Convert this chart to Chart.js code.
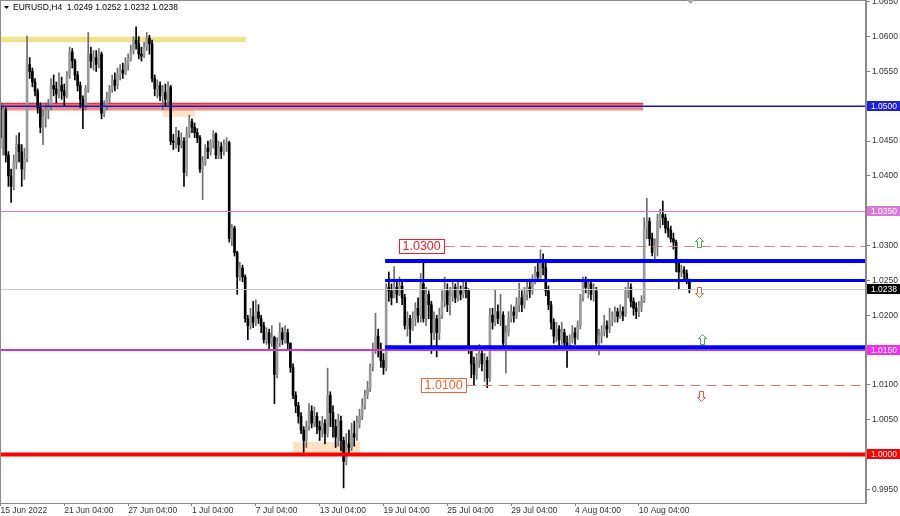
<!DOCTYPE html>
<html>
<head>
<meta charset="utf-8">
<title>EURUSD,H4</title>
<script src="https://cdn.jsdelivr.net/npm/chart.js@4.4.1/dist/chart.umd.min.js"></script>
<style>
    html, body { margin: 0; padding: 0; background: #fff; }
    #wrap { width: 900px; height: 516px; }
</style>
</head>
<body>
<div id="wrap"><canvas id="chart" width="900" height="516"></canvas></div>
<script>
// EURUSD H4, 15 Jun 2022 - 15 Aug 2022
const symbolTitle = 'EURUSD,H4';
const lastQuote = [1.0249, 1.0252, 1.0232, 1.0238]; // O H L C of the last bar
const firstOpen = 1.0500;

const closes = [
    1.0455, 1.0495, 1.0430, 1.0400, 1.0385, 1.0420, 1.0445, 1.0435, 1.0410, 1.0425,
    1.0560, 1.0550, 1.0535, 1.0522, 1.0498, 1.0470, 1.0485, 1.0495, 1.0500, 1.0530,
    1.0525, 1.0518, 1.0530, 1.0522, 1.0515, 1.0545, 1.0578, 1.0565, 1.0545, 1.0530,
    1.0510, 1.0500, 1.0525, 1.0575, 1.0565, 1.0570, 1.0560, 1.0575, 1.0490, 1.0500,
    1.0512, 1.0525, 1.0538, 1.0530, 1.0545, 1.0552, 1.0548, 1.0560, 1.0568, 1.0580,
    1.0595, 1.0590, 1.0575, 1.0572, 1.0585, 1.0598, 1.0590, 1.0540, 1.0525, 1.0530,
    1.0515, 1.0520, 1.0510, 1.0528, 1.0450, 1.0448, 1.0455, 1.0445, 1.0450, 1.0405,
    1.0460, 1.0478, 1.0470, 1.0462, 1.0455, 1.0410, 1.0420, 1.0440, 1.0435, 1.0448,
    1.0460, 1.0430, 1.0442, 1.0435, 1.0445, 1.0448, 1.0310, 1.0325, 1.0290, 1.0255,
    1.0268, 1.0255, 1.0195, 1.0185, 1.0198, 1.0190, 1.0205, 1.0195, 1.0185, 1.0165,
    1.0175, 1.0160, 1.0168, 1.0115, 1.0160, 1.0175, 1.0165, 1.0175, 1.0160, 1.0125,
    1.0085, 1.0070, 1.0055, 1.0035, 1.0020, 1.0040, 1.0062, 1.0045, 1.0055, 1.0040,
    1.0035, 1.0045, 1.0030, 1.0085, 1.0060, 1.0040, 1.0025, 1.0048, 1.0020, 0.9990,
    1.0015, 1.0010, 1.0030, 1.0025, 1.0045, 1.0055, 1.0070, 1.0085, 1.0095, 1.0125,
    1.0150, 1.0170, 1.0150, 1.0135, 1.0125, 1.0240, 1.0235, 1.0225, 1.0240, 1.0230,
    1.0242, 1.0225, 1.0185, 1.0195, 1.0180, 1.0195, 1.0210, 1.0200, 1.0245, 1.0195,
    1.0230, 1.0215, 1.0175, 1.0195, 1.0175, 1.0200, 1.0220, 1.0235, 1.0215, 1.0228,
    1.0240, 1.0225, 1.0235, 1.0230, 1.0240, 1.0235, 1.0150, 1.0130, 1.0115, 1.0135,
    1.0145, 1.0130, 1.0135, 1.0110, 1.0200, 1.0190, 1.0205, 1.0195, 1.0200, 1.0160,
    1.0175, 1.0195, 1.0205, 1.0200, 1.0215, 1.0225, 1.0215, 1.0230, 1.0240, 1.0235,
    1.0250, 1.0262, 1.0255, 1.0275, 1.0268, 1.0235, 1.0215, 1.0190, 1.0170, 1.0180,
    1.0165, 1.0175, 1.0160, 1.0155, 1.0165, 1.0175, 1.0168, 1.0185, 1.0225, 1.0248,
    1.0240, 1.0245, 1.0230, 1.0235, 1.0160, 1.0170, 1.0175, 1.0185, 1.0180, 1.0192,
    1.0195, 1.0205, 1.0198, 1.0205, 1.0200, 1.0235, 1.0240, 1.0220, 1.0210, 1.0205,
    1.0212, 1.0220, 1.0325, 1.0335, 1.0310, 1.0290, 1.0300, 1.0335, 1.0345, 1.0340,
    1.0325, 1.0322, 1.0310, 1.0305, 1.0275, 1.0262, 1.0265, 1.0260, 1.0249, 1.0238
];

const highs = [
    1.0505, 1.0502, 1.0498, 1.0435, 1.0410, 1.0430, 1.0458, 1.0462, 1.0445, 1.0440,
    1.0601, 1.0570, 1.0555, 1.0540, 1.0525, 1.0505, 1.0495, 1.0505, 1.0510, 1.0540,
    1.0545, 1.0535, 1.0548, 1.0542, 1.0532, 1.0550, 1.0585, 1.0583, 1.0568, 1.0550,
    1.0535, 1.0515, 1.0530, 1.0606, 1.0585, 1.0580, 1.0580, 1.0583, 1.0578, 1.0508,
    1.0520, 1.0530, 1.0545, 1.0548, 1.0555, 1.0560, 1.0562, 1.0570, 1.0575, 1.0588,
    1.0600, 1.0614, 1.0600, 1.0585, 1.0592, 1.0606, 1.0602, 1.0595, 1.0545, 1.0538,
    1.0535, 1.0530, 1.0532, 1.0535, 1.0530, 1.0460, 1.0470, 1.0465, 1.0462, 1.0455,
    1.0470, 1.0487, 1.0482, 1.0476, 1.0468, 1.0458, 1.0428, 1.0445, 1.0450, 1.0452,
    1.0465, 1.0462, 1.0450, 1.0448, 1.0452, 1.0455, 1.0450, 1.0330, 1.0328, 1.0292,
    1.0276, 1.0272, 1.0258, 1.0200, 1.0210, 1.0220, 1.0222, 1.0215, 1.0200, 1.0190,
    1.0182, 1.0180, 1.0185, 1.0170, 1.0168, 1.0189, 1.0182, 1.0185, 1.0180, 1.0160,
    1.0130, 1.0090, 1.0075, 1.0060, 1.0040, 1.0048, 1.0073, 1.0070, 1.0068, 1.0060,
    1.0048, 1.0055, 1.0050, 1.0124, 1.0090, 1.0070, 1.0050, 1.0058, 1.0055, 1.0025,
    1.0030, 1.0035, 1.0045, 1.0048, 1.0055, 1.0065, 1.0080, 1.0092, 1.0105, 1.0130,
    1.0160, 1.0203, 1.0180, 1.0160, 1.0145, 1.0245, 1.0262, 1.0245, 1.0270, 1.0248,
    1.0255, 1.0248, 1.0230, 1.0205, 1.0200, 1.0205, 1.0218, 1.0225, 1.0260, 1.0277,
    1.0240, 1.0235, 1.0220, 1.0205, 1.0200, 1.0210, 1.0235, 1.0255, 1.0245, 1.0240,
    1.0250, 1.0245, 1.0248, 1.0242, 1.0250, 1.0248, 1.0238, 1.0155, 1.0140, 1.0145,
    1.0158, 1.0150, 1.0145, 1.0140, 1.0210, 1.0210, 1.0236, 1.0215, 1.0230, 1.0205,
    1.0185, 1.0205, 1.0215, 1.0212, 1.0225, 1.0246, 1.0235, 1.0240, 1.0250, 1.0252,
    1.0258, 1.0270, 1.0278, 1.0294, 1.0288, 1.0275, 1.0242, 1.0220, 1.0195, 1.0190,
    1.0185, 1.0190, 1.0180, 1.0170, 1.0172, 1.0185, 1.0182, 1.0192, 1.0230, 1.0255,
    1.0255, 1.0252, 1.0248, 1.0245, 1.0240, 1.0180, 1.0185, 1.0200, 1.0192, 1.0210,
    1.0205, 1.0212, 1.0210, 1.0215, 1.0212, 1.0240, 1.0250, 1.0245, 1.0225, 1.0218,
    1.0220, 1.0228, 1.0340, 1.0368, 1.0340, 1.0318, 1.0310, 1.0345, 1.0352, 1.0364,
    1.0345, 1.0335, 1.0328, 1.0318, 1.0308, 1.0280, 1.0272, 1.0270, 1.0265, 1.0252
];

const lows = [
    1.0440, 1.0430, 1.0420, 1.0385, 1.0362, 1.0380, 1.0410, 1.0420, 1.0385, 1.0395,
    1.0420, 1.0540, 1.0528, 1.0515, 1.0490, 1.0462, 1.0445, 1.0470, 1.0482, 1.0495,
    1.0515, 1.0505, 1.0512, 1.0510, 1.0500, 1.0512, 1.0540, 1.0555, 1.0538, 1.0522,
    1.0498, 1.0468, 1.0495, 1.0520, 1.0555, 1.0552, 1.0550, 1.0555, 1.0482, 1.0485,
    1.0495, 1.0505, 1.0520, 1.0522, 1.0525, 1.0538, 1.0540, 1.0545, 1.0552, 1.0565,
    1.0575, 1.0582, 1.0568, 1.0565, 1.0570, 1.0580, 1.0575, 1.0535, 1.0515, 1.0512,
    1.0508, 1.0495, 1.0500, 1.0502, 1.0445, 1.0438, 1.0440, 1.0435, 1.0440, 1.0385,
    1.0400, 1.0455, 1.0462, 1.0455, 1.0448, 1.0405, 1.0366, 1.0415, 1.0425, 1.0430,
    1.0440, 1.0425, 1.0425, 1.0425, 1.0430, 1.0435, 1.0305, 1.0300, 1.0285, 1.0230,
    1.0250, 1.0248, 1.0190, 1.0165, 1.0180, 1.0182, 1.0185, 1.0188, 1.0175, 1.0160,
    1.0158, 1.0150, 1.0155, 1.0073, 1.0110, 1.0155, 1.0158, 1.0160, 1.0152, 1.0118,
    1.0080, 1.0060, 1.0045, 1.0030, 1.0003, 1.0010, 1.0035, 1.0038, 1.0040, 1.0030,
    1.0020, 1.0025, 1.0015, 1.0025, 1.0040, 1.0025, 1.0010, 1.0012, 1.0005, 0.9952,
    0.9985, 1.0000, 1.0005, 1.0012, 1.0020, 1.0038, 1.0050, 1.0065, 1.0080, 1.0090,
    1.0120, 1.0145, 1.0140, 1.0125, 1.0115, 1.0120, 1.0220, 1.0215, 1.0225, 1.0218,
    1.0228, 1.0215, 1.0180, 1.0170, 1.0160, 1.0178, 1.0185, 1.0190, 1.0190, 1.0190,
    1.0185, 1.0195, 1.0145, 1.0165, 1.0140, 1.0165, 1.0195, 1.0212, 1.0205, 1.0200,
    1.0220, 1.0218, 1.0220, 1.0222, 1.0225, 1.0225, 1.0145, 1.0110, 1.0100, 1.0108,
    1.0125, 1.0120, 1.0105, 1.0096, 1.0105, 1.0180, 1.0185, 1.0188, 1.0185, 1.0150,
    1.0117, 1.0170, 1.0190, 1.0190, 1.0195, 1.0205, 1.0205, 1.0210, 1.0222, 1.0225,
    1.0230, 1.0245, 1.0248, 1.0252, 1.0258, 1.0228, 1.0208, 1.0180, 1.0160, 1.0162,
    1.0155, 1.0158, 1.0150, 1.0125, 1.0150, 1.0160, 1.0158, 1.0165, 1.0180, 1.0220,
    1.0232, 1.0225, 1.0222, 1.0220, 1.0150, 1.0143, 1.0160, 1.0170, 1.0168, 1.0175,
    1.0185, 1.0190, 1.0190, 1.0195, 1.0192, 1.0198, 1.0225, 1.0212, 1.0200, 1.0195,
    1.0198, 1.0205, 1.0218, 1.0310, 1.0300, 1.0285, 1.0280, 1.0285, 1.0325, 1.0330,
    1.0318, 1.0312, 1.0305, 1.0295, 1.0262, 1.0238, 1.0255, 1.0252, 1.0245, 1.0232
];

// time axis: one label every 24 bars
const xTickIndex = [0, 24, 48, 72, 96, 120, 144, 168, 192, 216, 240];
const xTickLabels = ['15 Jun 2022', '21 Jun 04:00', '27 Jun 04:00', '1 Jul 04:00', '7 Jul 04:00',
    '13 Jul 04:00', '19 Jul 04:00', '25 Jul 04:00', '29 Jul 04:00', '4 Aug 04:00', '10 Aug 04:00'];
const yTicks = [0.9950, 1.0000, 1.0050, 1.0100, 1.0150, 1.0200, 1.0250, 1.0300,
    1.0350, 1.0400, 1.0450, 1.0500, 1.0550, 1.0600, 1.0650];

// drawn objects (prices and bar indexes)
const zonePrices = [[1.0592, 1.0600], [1.0494, 1.0505], [1.0485, 1.0505], [1.0000, 1.0018]];
const zoneBars = [[-1, 92.2], [-1, 241.6], [61, 73], [110, 135.2]];
const levelPrices = [1.0500, 1.0350, 1.0238, 1.0150, 1.0000];      // full width, with price tag
const channelPrices = [1.0278, 1.0250, 1.0154];                    // blue lines from 19 Jul
const channelStart = 144.6;
const targetPrices = [1.0300, 1.0100];                             // dashed with text box
const targetBars = [149.8, 158.1];
const arrowsUp = [[262.6, 1.0305], [263.7, 1.0166]];
const arrowsDown = [[262.6, 1.0233], [263.3, 1.0084]];

const FONT = '"Liberation Sans", Arial, sans-serif';

const bars = closes.map((c, i) => {
    const o = i === 0 ? firstOpen : closes[i - 1];
    return { i, o, c, h: Math.max(highs[i], o, c), l: Math.min(lows[i], o, c) };
});
const isUp = b => b.c >= b.o;

// 레벨, 박스, 화살표 그리기
const drawingsPlugin = {
    id: 'drawings',
    beforeDatasetsDraw(chart) {
        const { ctx, chartArea: a, scales: { x, y } } = chart;
        const zoneColors = ['#efe48e', '#f28a80', '#fde2c6', '#fde2c6'];
        ctx.save();
        ctx.beginPath();
        ctx.rect(a.left, a.top, a.width, a.height);
        ctx.clip();
        // peach boxes first, then bands
        [2, 3, 0, 1].forEach(k => {
            const x0 = x.getPixelForValue(zoneBars[k][0]);
            const x1 = x.getPixelForValue(zoneBars[k][1]);
            const y0 = y.getPixelForValue(zonePrices[k][1]);
            const y1 = y.getPixelForValue(zonePrices[k][0]);
            ctx.fillStyle = zoneColors[k];
            ctx.fillRect(x0, y0, x1 - x0, y1 - y0);
        });
        // red top edge of the 1.0500 band
        const xb0 = x.getPixelForValue(zoneBars[1][0]);
        const xb1 = x.getPixelForValue(zoneBars[1][1]);
        ctx.fillStyle = '#ee3030';
        ctx.fillRect(xb0, y.getPixelForValue(zonePrices[1][1]), xb1 - xb0, 1.5);
        ctx.restore();
    },
    afterDatasetsDraw(chart) {
        const { ctx, chartArea: a, scales: { x, y } } = chart;
        ctx.save();
        ctx.beginPath();
        ctx.rect(a.left, a.top, a.width, a.height);
        ctx.clip();

        const hline = (price, x0, x1, width, color, dash) => {
            let py = y.getPixelForValue(price);
            // 1px lines snapped to the pixel grid
            if (width === 1) py = Math.round(py) + 0.5;
            ctx.beginPath();
            ctx.setLineDash(dash || []);
            ctx.strokeStyle = color;
            ctx.lineWidth = width;
            ctx.moveTo(x0, py);
            ctx.lineTo(x1, py);
            ctx.stroke();
        };

        const levelStyle = [[1.5, '#1414d2'], [1, '#d878d8'], [1, '#c8c8c8'], [2, '#c63cc6'], [4, '#ff0000']];
        levelPrices.forEach((p, k) => hline(p, a.left, a.right, levelStyle[k][0], levelStyle[k][1]));

        const chStart = x.getPixelForValue(channelStart);
        const chWidth = [4, 3, 4];
        channelPrices.forEach((p, k) => hline(p, chStart, a.right, chWidth[k], '#0000ff'));

        // 목표 레벨 (dashed + label box)
        const targetColor = ['#e8202a', '#f2622e'];
        ctx.font = '12.5px ' + FONT;
        ctx.textBaseline = 'middle';
        targetPrices.forEach((p, k) => {
            const txt = p.toFixed(4);
            const bx = Math.round(x.getPixelForValue(targetBars[k])) + 0.5;
            const py = Math.round(y.getPixelForValue(p)) + 0.5;
            const w = Math.ceil(ctx.measureText(txt).width) + 6;
            hline(p, bx + w, a.right, 1, '#d67c7c', [10, 6]);
            ctx.setLineDash([]);
            ctx.fillStyle = '#ffffff';
            ctx.fillRect(bx, py - 7, w, 14);
            ctx.strokeStyle = targetColor[k];
            ctx.lineWidth = 1;
            ctx.strokeRect(bx, py - 7, w, 14);
            ctx.fillStyle = targetColor[k];
            ctx.textAlign = 'left';
            ctx.fillText(txt, bx + 3, py + 0.5);
        });

        // arrows
        const arrow = (pt, dir, color) => {
            const cx = Math.round(x.getPixelForValue(pt[0])) + 0.5;
            const cy = Math.round(y.getPixelForValue(pt[1])) + 0.5;
            const s = dir;
            ctx.beginPath();
            ctx.moveTo(cx, cy - 5 * s);
            ctx.lineTo(cx + 4, cy - 1 * s);
            ctx.lineTo(cx + 2, cy - 1 * s);
            ctx.lineTo(cx + 2, cy + 5 * s);
            ctx.lineTo(cx - 2, cy + 5 * s);
            ctx.lineTo(cx - 2, cy - 1 * s);
            ctx.lineTo(cx - 4, cy - 1 * s);
            ctx.closePath();
            ctx.fillStyle = '#ffffff';
            ctx.fill();
            ctx.strokeStyle = color;
            ctx.lineWidth = 1;
            ctx.setLineDash([]);
            ctx.stroke();
        };
        arrowsUp.forEach(pt => arrow(pt, 1, '#3cb43c'));
        arrowsDown.forEach(pt => arrow(pt, -1, '#ee5a3a'));
        ctx.restore();
    },
    afterDraw(chart) {
        const { ctx, chartArea: a, scales: { x, y } } = chart;
        ctx.save();
        // frame
        ctx.strokeStyle = '#8a8a8a';
        ctx.lineWidth = 1;
        ctx.strokeRect(a.left + 0.5, a.top + 0.5, a.width - 1, a.height);

        // price tags on the right axis
        const tagColors = ['#1e1ee0', '#d878d8', '#000000', '#ee30ee', '#ff0000'];
        const tags = levelPrices.map((p, k) => [p, tagColors[k]]);
        ctx.font = '8.5px ' + FONT;
        ctx.textBaseline = 'middle';
        ctx.textAlign = 'left';
        tags.forEach(([p, col]) => {
            const py = Math.round(y.getPixelForValue(p));
            ctx.fillStyle = col;
            ctx.fillRect(a.right + 1, py - 5, 900 - a.right - 1, 10);
            ctx.fillStyle = '#ffffff';
            ctx.fillText(p.toFixed(4), a.right + 5, py + 0.5);
        });

        // title
        ctx.fillStyle = '#000';
        ctx.beginPath();
        ctx.moveTo(4, 6);
        ctx.lineTo(9, 6);
        ctx.lineTo(6.5, 9);
        ctx.closePath();
        ctx.fill();
        ctx.fillText(symbolTitle + '  ' + lastQuote.map(v => v.toFixed(4)).join(' '), 13, 8);

        // chart shift marker
        const mx = x.getPixelForValue(closes.length - 1) + 1;
        ctx.fillStyle = '#a8a8a8';
        ctx.beginPath();
        ctx.moveTo(mx - 4, 0);
        ctx.lineTo(mx + 4, 0);
        ctx.lineTo(mx, 4);
        ctx.closePath();
        ctx.fill();
        ctx.restore();
    }
};

const ctx = document.getElementById('chart').getContext('2d');
new Chart(ctx, {
    type: 'bar',
    data: {
        datasets: [
            {
                label: 'body',
                data: bars.map(b => ({ x: b.i, y: [b.o, b.c] })),
                backgroundColor: bars.map(b => isUp(b) ? '#9a9a9a' : '#000000'),
                borderWidth: 0,
                barThickness: 2,
                minBarLength: 1,
                grouped: false
            },
            {
                label: 'wick',
                data: bars.map(b => ({ x: b.i, y: [b.l, b.h] })),
                backgroundColor: bars.map(b => isUp(b) ? '#6e6e6e' : '#000000'),
                borderWidth: 0,
                barThickness: 1,
                grouped: false
            }
        ]
    },
    options: {
        responsive: false,
        devicePixelRatio: 1,
        animation: false,
        events: [],
        layout: { padding: 0 },
        plugins: {
            legend: { display: false },
            tooltip: { enabled: false }
        },
        scales: {
            x: {
                type: 'linear',
                min: -0.17,
                max: 325.39,
                offset: false,
                grid: { drawOnChartArea: false, drawTicks: true, tickLength: 3, color: '#808080', offset: false },
                border: { display: true, color: '#8a8a8a' },
                ticks: {
                    autoSkip: false,
                    maxRotation: 0,
                    minRotation: 0,
                    align: 'start',
                    padding: 0,
                    color: '#303030',
                    font: { family: FONT, size: 8.5 },
                    callback: v => xTickLabels[xTickIndex.indexOf(v)]
                },
                afterBuildTicks: s => { s.ticks = xTickIndex.map(v => ({ value: v })); },
                afterFit: s => { s.height = 13; s.paddingLeft = 0; s.paddingRight = 0; }
            },
            y: {
                position: 'right',
                min: 0.99303,
                max: 1.06527,
                grid: { drawOnChartArea: false, drawTicks: true, tickLength: 4, color: '#808080' },
                border: { display: true, color: '#8a8a8a' },
                ticks: {
                    padding: 2,
                    color: '#303030',
                    font: { family: FONT, size: 8.5 },
                    callback: v => v.toFixed(4)
                },
                afterBuildTicks: s => { s.ticks = yTicks.map(v => ({ value: v })); },
                afterFit: s => { s.width = 34; s.paddingTop = 0; s.paddingBottom = 0; }
            }
        }
    },
    plugins: [drawingsPlugin]
});
</script>
</body>
</html>
